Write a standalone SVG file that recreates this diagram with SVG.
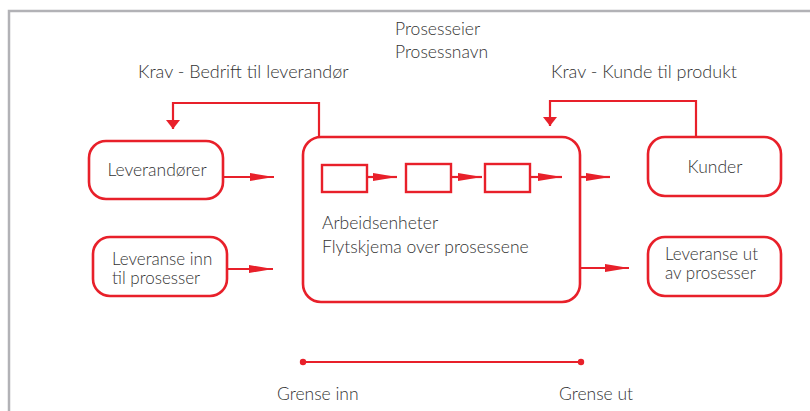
<svg xmlns="http://www.w3.org/2000/svg" width="810" height="411" viewBox="0 0 810 411">
  <defs>
    <marker id="arrow" viewBox="0 0 24 10" refX="24" refY="5" markerWidth="24" markerHeight="10" markerUnits="userSpaceOnUse" orient="auto">
      <path d="M0,1 L24,5 L0,9 Z" fill="#e8202a"/>
    </marker>
    <marker id="arrowDown" viewBox="0 0 14 9" refX="7" refY="9" markerWidth="14" markerHeight="9" markerUnits="userSpaceOnUse" orient="0">
      <path d="M0,0 L14,0 L7,9 Z" fill="#e8202a"/>
    </marker>
  </defs>
  <style>
    .frame { fill: none; stroke: #b2b2b6; stroke-width: 2.5; }
    .box { fill: #ffffff; stroke: #e8202a; stroke-width: 2.6; }
    .unit { fill: #ffffff; stroke: #e8202a; stroke-width: 2.4; }
    .link { fill: none; stroke: #e8202a; stroke-width: 2.2; }
    .label { font-family: Lato, "Liberation Sans", sans-serif; font-size: 17.5px; font-weight: 300; fill: #333333; }
    .wide { font-size: 18px; }
    .two { font-size: 17px; }
    .mid { text-anchor: middle; }
  </style>

  <rect width="810" height="411" fill="#ffffff"/>
  <!-- outer frame, open to the right and bottom -->
  <path class="frame" d="M9,411 V11 H810"/>

  <!-- header texts -->
  <g id="header">
    <text class="label" x="395" y="35">Prosesseier</text>
    <text class="label" x="395" y="58">Prosessnavn</text>
  </g>

  <!-- connectors -->
  <g id="connectors">
    <!-- requirement loops -->
    <path class="link" d="M319,137 V103 H173 V129" marker-end="url(#arrowDown)"/>
    <path class="link" d="M696,137 V101 H550 V126" marker-end="url(#arrowDown)"/>
    <text class="label wide" x="138" y="78">Krav - Bedrift til leverandør</text>
    <text class="label wide" x="551" y="78">Krav - Kunde til produkt</text>
    <!-- inputs -->
    <line class="link" x1="224" y1="177" x2="274" y2="177" marker-end="url(#arrow)"/>
    <line class="link" x1="228" y1="269" x2="273" y2="269" marker-end="url(#arrow)"/>
    <!-- outputs -->
    <line class="link" x1="580" y1="177" x2="610" y2="177" marker-end="url(#arrow)"/>
    <line class="link" x1="580" y1="268" x2="629" y2="268" marker-end="url(#arrow)"/>
    <!-- boundary -->
    <line class="link" x1="303" y1="362" x2="581" y2="362"/>
    <circle cx="303" cy="362" r="3.2" fill="#e8202a"/>
    <circle cx="581" cy="362" r="3.2" fill="#e8202a"/>
    <text class="label" x="277" y="400">Grense inn</text>
    <text class="label" x="559" y="400">Grense ut</text>
  </g>

  <g id="leverandorer">
    <rect class="box" x="89" y="141" width="134" height="58" rx="17"/>
    <text class="label mid" x="157" y="176">Leverandører</text>
  </g>

  <g id="leveranse-inn">
    <rect class="box" x="93" y="237" width="134" height="59" rx="17"/>
    <text class="label two" x="112" y="265">Leveranse inn</text>
    <text class="label two" x="112" y="284">til prosesser</text>
  </g>

  <g id="prosess">
    <rect class="box" x="303" y="137" width="277" height="165" rx="18"/>
    <rect class="unit" x="322" y="165" width="45" height="27"/>
    <rect class="unit" x="406" y="164" width="45" height="28"/>
    <rect class="unit" x="485" y="164" width="45" height="28"/>
    <line class="link" x1="367" y1="177" x2="397" y2="177" marker-end="url(#arrow)"/>
    <line class="link" x1="451" y1="177" x2="482" y2="177" marker-end="url(#arrow)"/>
    <line class="link" x1="530" y1="177" x2="562" y2="177" marker-end="url(#arrow)"/>
    <text class="label" x="322" y="229">Arbeidsenheter</text>
    <text class="label" x="322" y="253">Flytskjema over prosessene</text>
  </g>

  <g id="kunder">
    <rect class="box" x="648" y="137" width="133" height="59" rx="17"/>
    <text class="label mid" x="715" y="173">Kunder</text>
  </g>

  <g id="leveranse-ut">
    <rect class="box" x="648" y="237" width="133" height="59" rx="17"/>
    <text class="label two" x="665" y="260">Leveranse ut</text>
    <text class="label two" x="665" y="279">av prosesser</text>
  </g>
</svg>
